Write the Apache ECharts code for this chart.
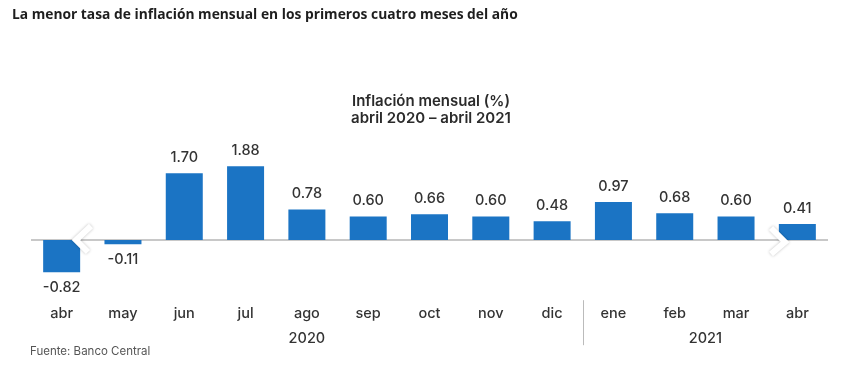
<!DOCTYPE html>
<html><head><meta charset="utf-8">
<script src="https://cdn.jsdelivr.net/npm/echarts@6/dist/echarts.min.js"></script>
<style>html,body{margin:0;padding:0;background:#fff}#c{width:850px;height:383px}</style>
</head><body><div id="c"></div>
<script>
const categories = ['abr','may','jun','jul','ago','sep','oct','nov','dic','ene','feb','mar','abr'];
const values = [-0.82,-0.11,1.70,1.88,0.78,0.60,0.66,0.60,0.48,0.97,0.68,0.60,0.41];
const yearLabels = ['2020','2021'];
const yearCenters = [4.5, 11];
const yearSeparators = [9];

const chart = echarts.init(document.getElementById('c'), null, {renderer:'canvas'});
const F = 'Inter, "Open Sans", sans-serif';
const gridTop = 161.6, gridH = 117.6;
chart.setOption({
  animation:false,
  textStyle:{fontFamily:F},
  title:[
    {text:'La menor tasa de inflación mensual en los primeros cuatro meses del año', left:12, top:8, padding:0,
     textStyle:{fontFamily:'"Open Sans", sans-serif', fontWeight:'bold', fontSize:13.8, color:'#1e1e1e'}},
    {text:'Inflación mensual (%)\nabril 2020 – abril 2021', left:431, top:93, padding:0, textAlign:'center',
     textStyle:{fontFamily:F, fontWeight:600, fontSize:15, lineHeight:17, color:'#2b2b2b'}},
    {text:'Fuente: Banco Central', left:30, top:346, padding:0,
     textStyle:{fontFamily:F, fontWeight:'normal', fontSize:11.5, color:'#555'}}
  ],
  grid:{left:31, right:22, top:gridTop, height:gridH},
  xAxis:[
    {type:'category', data:categories, axisLine:{show:false, onZero:false}, axisTick:{show:false},
     axisLabel:{margin:27, fontSize:14.5, fontWeight:500, color:'#333', fontFamily:F}},
    {type:'value', position:'bottom', offset:21, min:0, max:categories.length,
     axisLine:{show:false, onZero:false}, splitLine:{show:false},
     axisTick:{show:true, customValues:yearSeparators, length:45, lineStyle:{color:'#bbb', width:1}},
     axisLabel:{show:true, customValues:yearCenters, margin:31, fontSize:14.5, fontWeight:500, color:'#333', fontFamily:F,
       formatter:v=>{const i=yearCenters.indexOf(v);return i>=0?yearLabels[i]:'';}}}
  ],
  yAxis:{type:'value', min:-1, max:2, interval:1, show:false},
  series:[{
    type:'bar', data:values.map(v=>({value:v, label:{position: v<0?'bottom':'top'}})),
    barWidth:37, itemStyle:{color:'#1b74c4'},
    label:{show:true, distance:8, fontSize:14.5, fontWeight:500, color:'#333', fontFamily:F, formatter:p=>p.value.toFixed(2)},
    markLine:{silent:true, symbol:'none', label:{show:false}, lineStyle:{color:'#c8c8c8', width:2, type:'solid'},
      data:[{yAxis:0}], z:1}
  }],
  graphic:[
    {type:'polyline', shape:{points:[[91,226],[76,240],[88,252]]}, style:{stroke:'#fff', lineWidth:6, fill:null, shadowColor:'rgba(0,0,0,0.25)', shadowBlur:3}, z:100},
    {type:'polyline', shape:{points:[[771,228],[785,242],[771,254]]}, style:{stroke:'#fff', lineWidth:6, fill:null, shadowColor:'rgba(0,0,0,0.25)', shadowBlur:3}, z:100}
  ]
});
</script></body></html>
